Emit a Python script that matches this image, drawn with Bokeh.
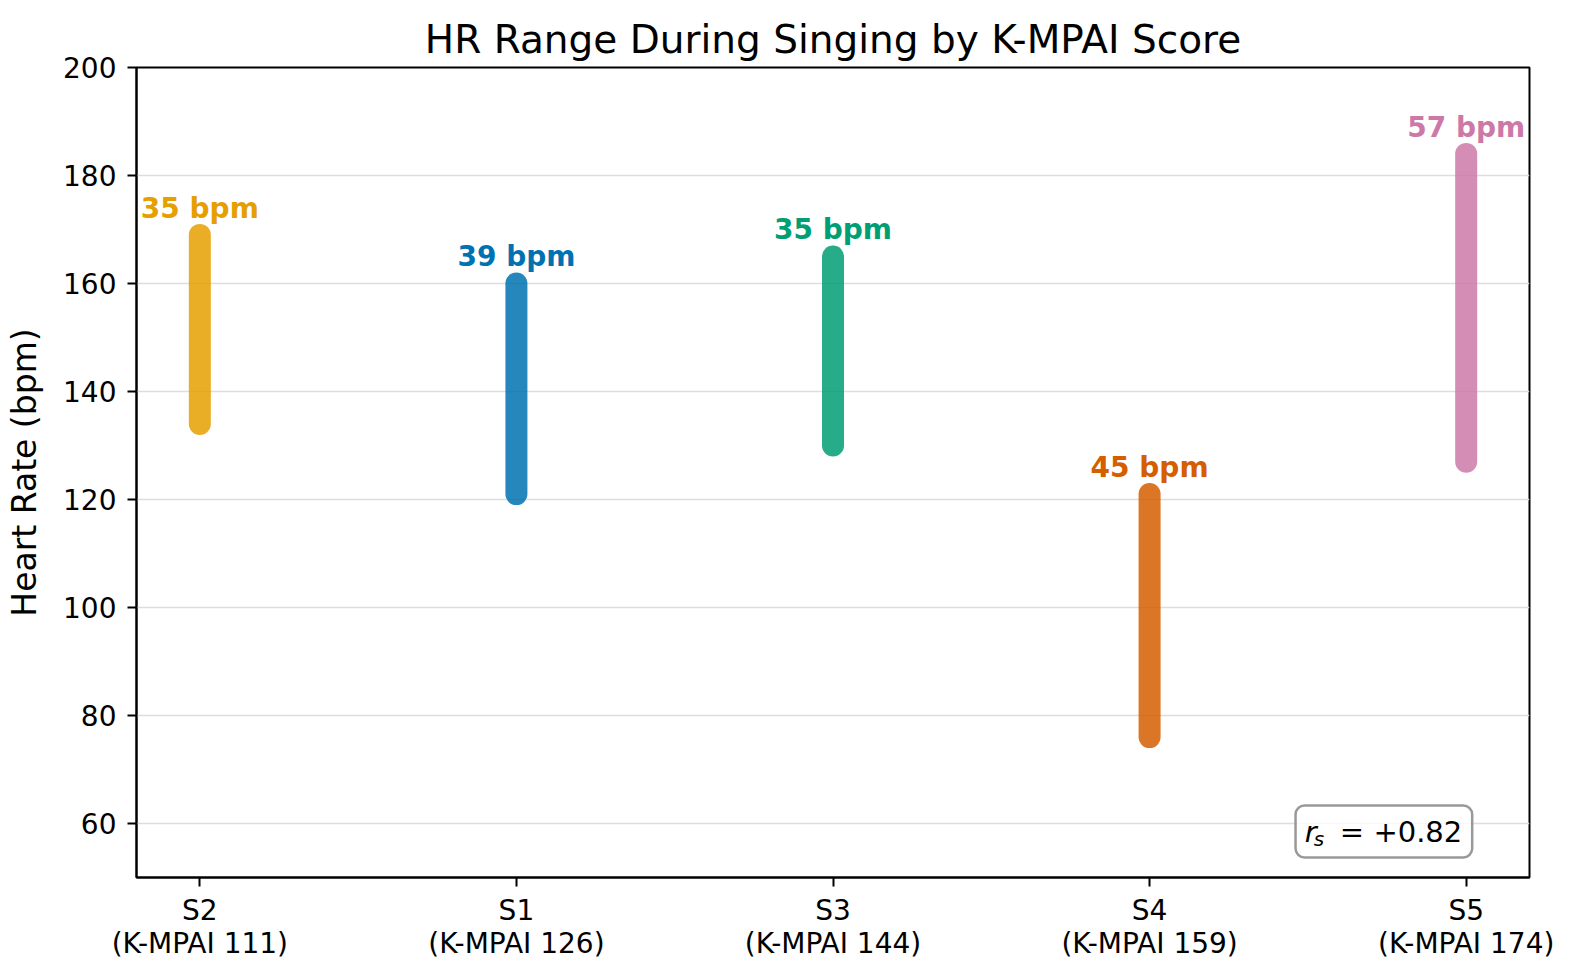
from bokeh.plotting import figure
from bokeh.models import Range1d, FixedTicker, Label, ColumnDataSource
from bokeh.embed import file_html
from bokeh.resources import INLINE
from bokeh.core.properties import value

subjects = ["S2", "S1", "S3", "S4", "S5"]
kmpai = [111, 126, 144, 159, 174]
hr_min = [134, 121, 130, 76, 127]
hr_max = [169, 160, 165, 121, 184]
colors = ["#E69F00", "#0072B2", "#009E73", "#D55E00", "#CC79A7"]
rs_value = 0.82
y_ticks = [60, 80, 100, 120, 140, 160, 180, 200]

FONT = "DejaVu Sans"
xs = list(range(len(subjects)))
ranges = [hi - lo for lo, hi in zip(hr_min, hr_max)]

src = ColumnDataSource(dict(
    x=xs, lo=hr_min, hi=hr_max, color=colors,
    label=[f"{r} bpm" for r in ranges],
    ly=[h + 1.9 for h in hr_max],
))

p = figure(width=1557, height=964, output_backend="svg", toolbar_location=None,
           x_range=Range1d(-0.2, 4.2), y_range=Range1d(50, 200),
           min_border_left=136, min_border_right=28, min_border_top=67, min_border_bottom=87)

p.segment(x0="x", y0="lo", x1="x", y1="hi", source=src, line_color="color",
          line_width=22, line_alpha=0.85, line_cap="round")
p.text(x="x", y="ly", text="label", source=src, text_color="color",
       text_font=value(FONT), text_font_style="bold", text_font_size="28px",
       text_align="center", text_baseline="bottom")

p.title.text = "HR Range During Singing by K-MPAI Score"
p.title.align = "center"
p.title.text_font = FONT
p.title.text_font_style = "normal"
p.title.text_font_size = "39px"
p.title.text_color = "black"
p.title.standoff = 12

p.xaxis.ticker = FixedTicker(ticks=xs)
p.xaxis.major_label_overrides = {i: f"{s}\n(K-MPAI {k})" for i, s, k in zip(xs, subjects, kmpai)}
p.yaxis.ticker = FixedTicker(ticks=y_ticks)
p.yaxis.axis_label = "Heart Rate (bpm)"

for ax in (p.xaxis[0], p.yaxis[0]):
    ax.major_label_text_font = FONT
    ax.major_label_text_font_size = "28px"
    ax.major_label_text_color = "black"
    ax.axis_line_color = "black"
    ax.axis_line_width = 2
    ax.major_tick_line_color = "black"
    ax.major_tick_line_width = 2
    ax.major_tick_out = 9
    ax.major_tick_in = 0
    ax.minor_tick_line_color = None
    ax.axis_label_text_font = FONT
    ax.axis_label_text_font_size = "33px"
    ax.axis_label_text_font_style = "normal"
    ax.axis_label_text_color = "black"
p.xaxis.major_label_text_line_height = 1.02
p.yaxis.major_label_standoff = 11
p.xaxis.major_label_standoff = 7
p.yaxis.axis_label_standoff = 16

p.xgrid.grid_line_color = None
p.ygrid.grid_line_color = "#dddddd"
p.ygrid.grid_line_width = 1.5

p.outline_line_color = "black"
p.outline_line_width = 2
p.outline_line_alpha = 1

# r_s annotation box
bx, by = 3.74, 58.5
box = Label(x=bx, y=by, text="rs = +0.82", text_color="white", text_font=FONT,
            text_font_size="29px", text_align="center", text_baseline="middle",
            padding=9, border_radius=9, border_line_color="#999999", border_line_width=2.5,
            background_fill_color="white", background_fill_alpha=0.8)
p.add_layout(box)
p.add_layout(Label(x=bx, y=by, x_offset=-79, text="r", text_font=FONT, text_font_style="italic",
                   text_font_size="29px", text_align="left", text_baseline="middle", text_color="black"))
p.add_layout(Label(x=bx, y=by, x_offset=-70, y_offset=-7, text="s", text_font=FONT,
                   text_font_style="italic", text_font_size="20px", text_align="left",
                   text_baseline="middle", text_color="black"))
p.add_layout(Label(x=bx, y=by, x_offset=-44, text=f"= +{rs_value:.2f}", text_font=FONT,
                   text_font_size="29px", text_align="left", text_baseline="middle", text_color="black"))

open("out.html", "w").write(file_html(p, INLINE))
